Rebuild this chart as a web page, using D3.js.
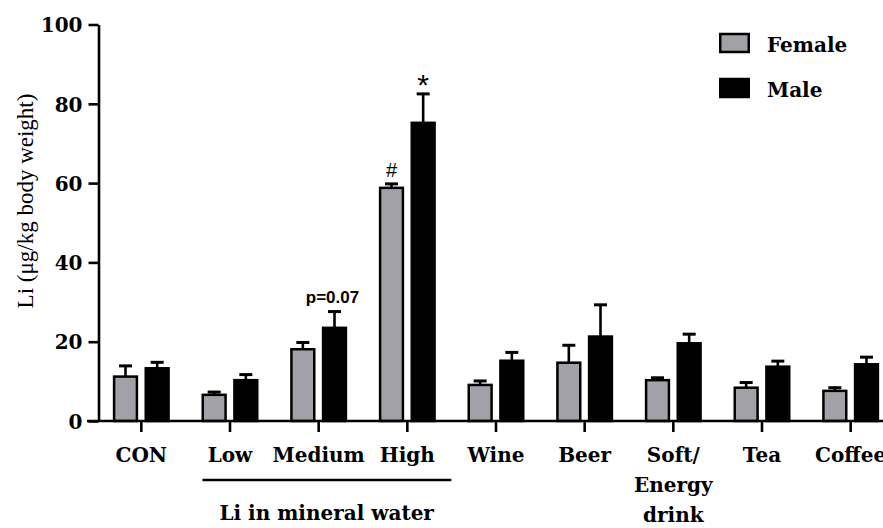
<!DOCTYPE html>
<html>
<head>
<meta charset="utf-8">
<script src="https://cdn.jsdelivr.net/npm/d3@7"></script>
<style>
  html, body { margin: 0; padding: 0; background: #fff; }
  svg { display: block; }
</style>
</head>
<body>
<svg id="chart" width="883" height="528"></svg>
<script>
const categories = ["CON", "Low", "Medium", "High", "Wine", "Beer", "Soft/Energy drink", "Tea", "Coffee"];
const categoryLabels = [["CON"], ["Low"], ["Medium"], ["High"], ["Wine"], ["Beer"], ["Soft/", "Energy", "drink"], ["Tea"], ["Coffee"]];
const series = ["Female", "Male"];
const femaleMean = [11.2, 6.6, 18.1, 58.8, 9.1, 14.7, 10.3, 8.4, 7.6];
const femaleErr  = [13.9, 7.3, 19.8, 59.8, 10.1, 19.1, 10.9, 9.7, 8.4];
const maleMean   = [13.3, 10.3, 23.5, 75.2, 15.2, 21.3, 19.6, 13.7, 14.3];
const maleErr    = [14.8, 11.7, 27.6, 82.5, 17.3, 29.3, 21.9, 15.1, 16.1];
const yTicks = [0, 20, 40, 60, 80, 100];
const annotations = [
  { cat: "Medium", s: "Male", text: "p=0.07", kind: "p" },
  { cat: "High", s: "Female", text: "#", kind: "hash" },
  { cat: "High", s: "Male", text: "*", kind: "star" }
];
const groupLabel = "Li in mineral water";
const groupCats = ["Low", "Medium", "High"];
const yLabel = "Li (μg/kg body weight)";

const colors = { Female: "#a2a1a7", Male: "#000000" };
const serifB = "DejaVu Serif, serif";
const serif = "Liberation Serif, serif";
const sans = "Liberation Sans, Arial, sans-serif";

const svg = d3.select("#chart");

const x = d3.scaleBand().domain(categories).range([97, 895]).padding(0);
const x1 = d3.scaleBand().domain(series).range([-28.5, 28.5]).paddingInner(0.2).paddingOuter(0);
const y = d3.scaleLinear().domain([0, 100]).range([421, 24.5]);
const cx = c => x(c) + x.bandwidth() / 2;

const data = [];
categories.forEach((c, i) => {
  data.push({ cat: c, s: "Female", v: femaleMean[i], e: femaleErr[i] });
  data.push({ cat: c, s: "Male", v: maleMean[i], e: maleErr[i] });
});

// error bars
const eb = svg.append("g").attr("stroke", "#000").attr("stroke-width", 2.6);
data.forEach(d => {
  const mx = cx(d.cat) + x1(d.s) + x1.bandwidth() / 2;
  eb.append("line").attr("x1", mx).attr("x2", mx).attr("y1", y(d.v)).attr("y2", y(d.e));
  eb.append("line").attr("x1", mx - 6.5).attr("x2", mx + 6.5).attr("y1", y(d.e)).attr("y2", y(d.e)).attr("stroke-width", 3);
});

// bars
svg.append("g").selectAll("rect").data(data).join("rect")
  .attr("x", d => cx(d.cat) + x1(d.s) + 1.25)
  .attr("width", x1.bandwidth() - 2.5)
  .attr("y", d => y(d.v))
  .attr("height", d => y(0) - y(d.v))
  .attr("fill", d => colors[d.s])
  .attr("stroke", "#000")
  .attr("stroke-width", 2.5);

// y axis
const yAxis = svg.append("g").attr("transform", "translate(98.5,0)")
  .call(d3.axisLeft(y).tickValues(yTicks).tickSize(10).tickSizeOuter(0).tickPadding(6));
yAxis.select(".domain").attr("stroke-width", 2.6);
yAxis.selectAll(".tick line").attr("stroke-width", 2.6);
yAxis.selectAll(".tick text")
  .attr("font-family", serifB).attr("font-weight", "bold").attr("font-size", 20).attr("fill", "#000")
  .attr("dy", "0.36em");

// x axis
const xAxis = svg.append("g").attr("transform", `translate(0,${y(0)})`)
  .call(d3.axisBottom(x).tickSize(11).tickSizeOuter(0).tickFormat(""));
xAxis.select(".domain").attr("stroke-width", 2.6).attr("d", `M87,0H895`);
xAxis.selectAll(".tick line").attr("stroke-width", 2.6);

// x labels
const xl = svg.append("g")
  .attr("font-family", serifB).attr("font-weight", "bold").attr("font-size", 20).attr("text-anchor", "middle");
categories.forEach((c, i) => {
  categoryLabels[i].forEach((line, j) => {
    xl.append("text").attr("x", cx(c)).attr("y", 462 + j * 30).text(line);
  });
});

// group bracket
const gx0 = cx(groupCats[0]) - 27.5, gx1 = cx(groupCats[groupCats.length - 1]) + 44;
svg.append("line").attr("x1", gx0).attr("x2", gx1).attr("y1", 480).attr("y2", 480)
  .attr("stroke", "#000").attr("stroke-width", 2.6);
svg.append("text").attr("x", cx(groupCats[1]) + 8).attr("y", 520)
  .attr("font-family", serifB).attr("font-weight", "bold").attr("font-size", 20)
  .attr("text-anchor", "middle").text(groupLabel);

// y label
svg.append("text")
  .attr("transform", "translate(33,201) rotate(-90)")
  .attr("font-family", serif).attr("font-size", 23).attr("text-anchor", "middle")
  .text(yLabel);

// annotations
annotations.forEach(a => {
  const d = data.find(q => q.cat === a.cat && q.s === a.s);
  const mx = cx(a.cat) + x1(a.s) + x1.bandwidth() / 2;
  const t = svg.append("text").attr("text-anchor", "middle").attr("font-family", sans).text(a.text);
  if (a.kind === "p") t.attr("x", mx - 2).attr("y", y(d.e) - 9).attr("font-size", 17).attr("font-weight", "bold");
  if (a.kind === "hash") t.attr("x", mx).attr("y", y(d.e) - 7).attr("font-size", 20);
  if (a.kind === "star") t.attr("x", mx).attr("y", y(d.e) + 1).attr("font-size", 30);
});

// legend
const lg = svg.append("g").attr("transform", "translate(719,0)");
series.forEach((s, i) => {
  lg.append("rect").attr("x", 1.25).attr("y", 34 + i * 45).attr("width", 28.5).attr("height", 18)
    .attr("fill", colors[s]).attr("stroke", "#000").attr("stroke-width", 2.5);
  lg.append("text").attr("x", 48).attr("y", 52 + i * 45)
    .attr("font-family", serifB).attr("font-weight", "bold").attr("font-size", 20).text(s);
});
</script>
</body>
</html>
